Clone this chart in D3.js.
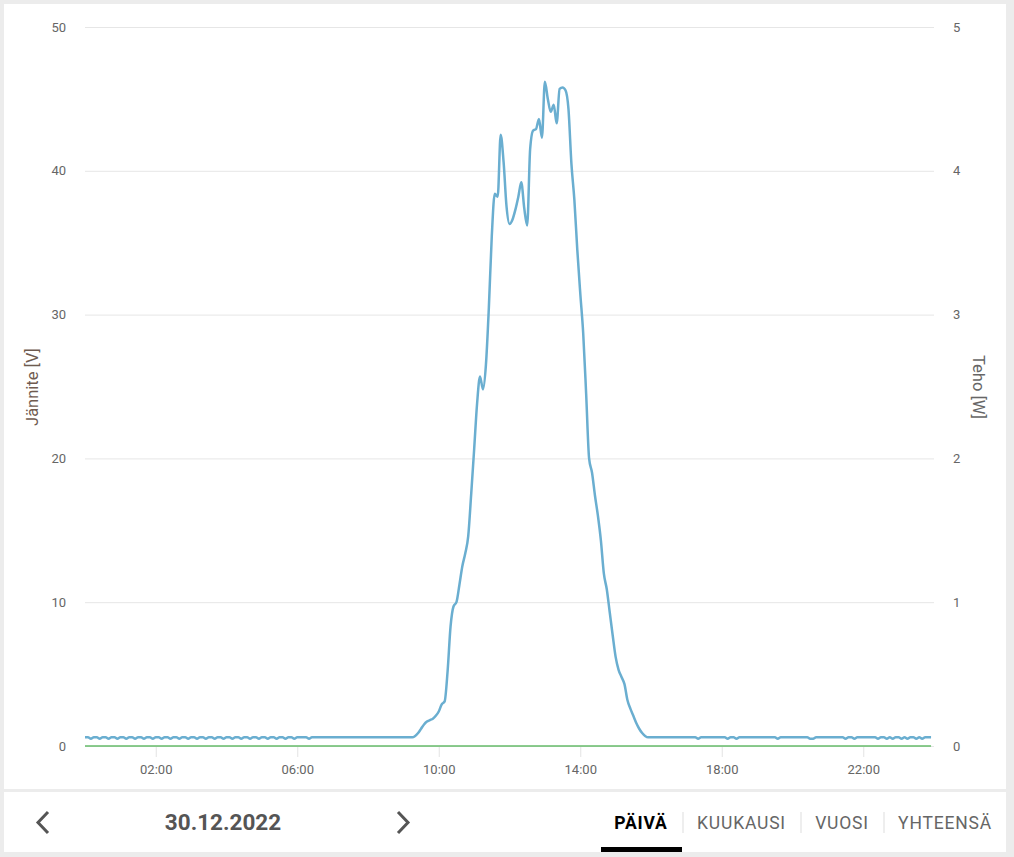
<!DOCTYPE html>
<meta charset="utf-8">
<script src="https://d3js.org/d3.v7.min.js"></script>
<style>
  body { margin: 0; background: #ececec; font-family: Roboto, "Noto Sans", sans-serif; }
  .tick text { fill: #666; font-size: 13px; font-family: Roboto, sans-serif; }
</style>
<div id="my_dataviz"></div>
<script>

// Jännite [V], 5 minute samples, one row per hour (00:00 ... 23:55)
var janniteByHour = [
  [0.6,0.6,0.5,0.6,0.6,0.5,0.6,0.6,0.5,0.6,0.6,0.5], // 00
  [0.6,0.6,0.5,0.6,0.6,0.5,0.6,0.6,0.5,0.6,0.6,0.5], // 01
  [0.6,0.6,0.5,0.6,0.6,0.5,0.6,0.6,0.5,0.6,0.6,0.5], // 02
  [0.6,0.6,0.5,0.6,0.6,0.5,0.6,0.6,0.5,0.6,0.6,0.5], // 03
  [0.6,0.6,0.5,0.6,0.6,0.5,0.6,0.6,0.5,0.6,0.6,0.5], // 04
  [0.6,0.6,0.5,0.6,0.6,0.5,0.6,0.6,0.5,0.6,0.6,0.5], // 05
  [0.6,0.6,0.6,0.6,0.5,0.6,0.6,0.6,0.6,0.6,0.6,0.6], // 06
  [0.6,0.6,0.6,0.6,0.6,0.6,0.6,0.6,0.6,0.6,0.6,0.6], // 07
  [0.6,0.6,0.6,0.6,0.6,0.6,0.6,0.6,0.6,0.6,0.6,0.6], // 08
  [0.6,0.6,0.6,0.6,0.7,0.9,1.2,1.5,1.7,1.8,1.9,2.1], // 09
  [2.4,2.9,3.1,5.2,8.3,9.7,10.0,11.2,12.5,13.4,14.6,17.5], // 10
  [20.6,23.8,25.7,24.8,26.5,30.5,35.5,38.4,38.2,42.5,40.6,37.5], // 11
  [36.3,36.6,37.3,38.2,39.2,37.4,36.2,41.5,42.8,42.9,43.6,42.3], // 12
  [46.2,45.0,44.1,44.6,43.3,45.7,45.8,45.6,44.3,40.5,38.0,34.5], // 13
  [31.5,28.7,24.5,20.0,19.0,17.4,16.0,14.3,12.0,10.9,9.3,7.7], // 14
  [6.2,5.3,4.8,4.3,3.2,2.6,2.1,1.6,1.2,0.9,0.7,0.6], // 15
  [0.6,0.6,0.6,0.6,0.6,0.6,0.6,0.6,0.6,0.6,0.6,0.6], // 16
  [0.6,0.6,0.6,0.6,0.5,0.6,0.6,0.6,0.6,0.6,0.6,0.6], // 17
  [0.6,0.6,0.5,0.6,0.6,0.5,0.6,0.6,0.6,0.6,0.6,0.6], // 18
  [0.6,0.6,0.6,0.6,0.6,0.6,0.6,0.5,0.6,0.6,0.6,0.6], // 19
  [0.6,0.6,0.6,0.6,0.6,0.6,0.5,0.5,0.6,0.6,0.6,0.6], // 20
  [0.6,0.6,0.6,0.6,0.6,0.6,0.5,0.6,0.6,0.5,0.6,0.6], // 21
  [0.6,0.6,0.6,0.6,0.6,0.5,0.6,0.6,0.5,0.6,0.5,0.6], // 22
  [0.6,0.5,0.6,0.5,0.6,0.6,0.5,0.6,0.5,0.6,0.6,0.6]  // 23
];

// Teho [W], 5 minute samples, one row per hour
var tehoByHour = [
  [0,0,0,0,0,0,0,0,0,0,0,0],[0,0,0,0,0,0,0,0,0,0,0,0],[0,0,0,0,0,0,0,0,0,0,0,0],
  [0,0,0,0,0,0,0,0,0,0,0,0],[0,0,0,0,0,0,0,0,0,0,0,0],[0,0,0,0,0,0,0,0,0,0,0,0],
  [0,0,0,0,0,0,0,0,0,0,0,0],[0,0,0,0,0,0,0,0,0,0,0,0],[0,0,0,0,0,0,0,0,0,0,0,0],
  [0,0,0,0,0,0,0,0,0,0,0,0],[0,0,0,0,0,0,0,0,0,0,0,0],[0,0,0,0,0,0,0,0,0,0,0,0],
  [0,0,0,0,0,0,0,0,0,0,0,0],[0,0,0,0,0,0,0,0,0,0,0,0],[0,0,0,0,0,0,0,0,0,0,0,0],
  [0,0,0,0,0,0,0,0,0,0,0,0],[0,0,0,0,0,0,0,0,0,0,0,0],[0,0,0,0,0,0,0,0,0,0,0,0],
  [0,0,0,0,0,0,0,0,0,0,0,0],[0,0,0,0,0,0,0,0,0,0,0,0],[0,0,0,0,0,0,0,0,0,0,0,0],
  [0,0,0,0,0,0,0,0,0,0,0,0],[0,0,0,0,0,0,0,0,0,0,0,0],[0,0,0,0,0,0,0,0,0,0,0,0]
];

var xTickLabels = ["02:00", "06:00", "10:00", "14:00", "18:00", "22:00"];
var leftTicks = [0, 10, 20, 30, 40, 50];
var rightTicks = [0, 1, 2, 3, 4, 5];
var dateLabel = "30.12.2022";
var tabs = ["PÄIVÄ", "KUUKAUSI", "VUOSI", "YHTEENSÄ"];

// flatten rows to {t, v}
var day = new Date(2022, 11, 30);
function flatten(rows) {
  var out = [];
  rows.forEach(function(row, h) {
    row.forEach(function(v, i) {
      out.push({t: new Date(2022, 11, 30, h, i * 5), v: v});
    });
  });
  return out;
}
var jannite = flatten(janniteByHour);
var teho = flatten(tehoByHour);

var W = 1014, H = 857;
var svg = d3.select("#my_dataviz")
  .append("svg")
    .attr("width", W)
    .attr("height", H);

// card
svg.append("rect").attr("x", 4).attr("y", 4).attr("width", 1002).attr("height", 848).attr("fill", "#fff");
svg.append("rect").attr("x", 4).attr("y", 789).attr("width", 1002).attr("height", 3).attr("fill", "#ececec");

var x = d3.scaleTime()
  .domain([day, new Date(2022, 11, 31)])
  .range([85, 934]);
var y = d3.scaleLinear().domain([0, 50]).range([746, 27]);
var y2 = d3.scaleLinear().domain([0, 5]).range([746, 27]);

// grid
svg.append("g")
  .selectAll("line")
  .data(leftTicks)
  .enter().append("line")
    .attr("x1", 85).attr("x2", 934)
    .attr("y1", function(d) { return y(d) + 0.5; })
    .attr("y2", function(d) { return y(d) + 0.5; })
    .attr("stroke", "#e6e6e6");

// x axis
var tickDates = xTickLabels.map(function(s) {
  var p = s.split(":");
  return new Date(2022, 11, 30, +p[0], +p[1]);
});
var xAxis = svg.append("g")
  .attr("transform", "translate(0,747)")
  .call(d3.axisBottom(x).tickValues(tickDates).tickFormat(d3.timeFormat("%H:%M")).tickSize(10).tickPadding(8));
xAxis.select(".domain").remove();
xAxis.selectAll(".tick line").attr("stroke", "#e3e3e3");

// left axis
var yAxis = svg.append("g")
  .attr("transform", "translate(66,0)")
  .call(d3.axisLeft(y).tickValues(leftTicks).tickSize(0).tickPadding(0));
yAxis.select(".domain").remove();

// right axis
var y2Axis = svg.append("g")
  .attr("transform", "translate(953,0)")
  .call(d3.axisRight(y2).tickValues(rightTicks).tickFormat(d3.format("d")).tickSize(0).tickPadding(0));
y2Axis.select(".domain").remove();

// axis titles
svg.append("text")
  .attr("transform", "translate(38,387) rotate(-90)")
  .attr("text-anchor", "middle")
  .attr("fill", "#6f5b50")
  .style("font-size", "16.5px")
  .text("Jännite [V]");
svg.append("text")
  .attr("transform", "translate(973,387) rotate(90)")
  .attr("text-anchor", "middle")
  .attr("fill", "#666")
  .style("font-size", "16.5px")
  .text("Teho [W]");

// lines
svg.append("path")
  .datum(teho)
  .attr("fill", "none")
  .attr("stroke", "#66bb6a")
  .attr("stroke-width", 1.5)
  .attr("d", d3.line()
    .x(function(d) { return x(d.t); })
    .y(function(d) { return y2(d.v); }));

svg.append("path")
  .datum(jannite)
  .attr("fill", "none")
  .attr("stroke", "#6aaed0")
  .attr("stroke-width", 2.5)
  .attr("d", d3.line()
    .curve(d3.curveMonotoneX)
    .x(function(d) { return x(d.t); })
    .y(function(d) { return y(d.v); }));

// bottom navigation
var nav = svg.append("g");
nav.append("path").attr("d", "M48,812 L38,822.5 L48,833").attr("fill", "none").attr("stroke", "#555").attr("stroke-width", 3);
nav.append("path").attr("d", "M398,812 L408,822.5 L398,833").attr("fill", "none").attr("stroke", "#555").attr("stroke-width", 3);
nav.append("text")
  .attr("x", 223).attr("y", 829.5)
  .attr("text-anchor", "middle")
  .attr("fill", "#555")
  .style("font-size", "22.5px").style("font-weight", "bold")
  .text(dateLabel);

var tabX = [641, 741.5, 842, 945];
var sepX = [683, 801, 884];
nav.selectAll(".tab")
  .data(tabs)
  .enter().append("text")
    .attr("class", "tab")
    .attr("x", function(d, i) { return tabX[i]; })
    .attr("y", 829)
    .attr("text-anchor", "middle")
    .attr("fill", function(d, i) { return i === 0 ? "#000" : "#666"; })
    .style("font-size", "17.5px")
    .style("font-weight", function(d, i) { return i === 0 ? "bold" : "400"; })
    .style("letter-spacing", "0.8px")
    .text(function(d) { return d; });
nav.selectAll(".sep")
  .data(sepX)
  .enter().append("line")
    .attr("x1", function(d) { return d; }).attr("x2", function(d) { return d; })
    .attr("y1", 812).attr("y2", 833)
    .attr("stroke", "#ddd");
nav.append("rect").attr("x", 601).attr("y", 847).attr("width", 81).attr("height", 5).attr("fill", "#000");

</script>
